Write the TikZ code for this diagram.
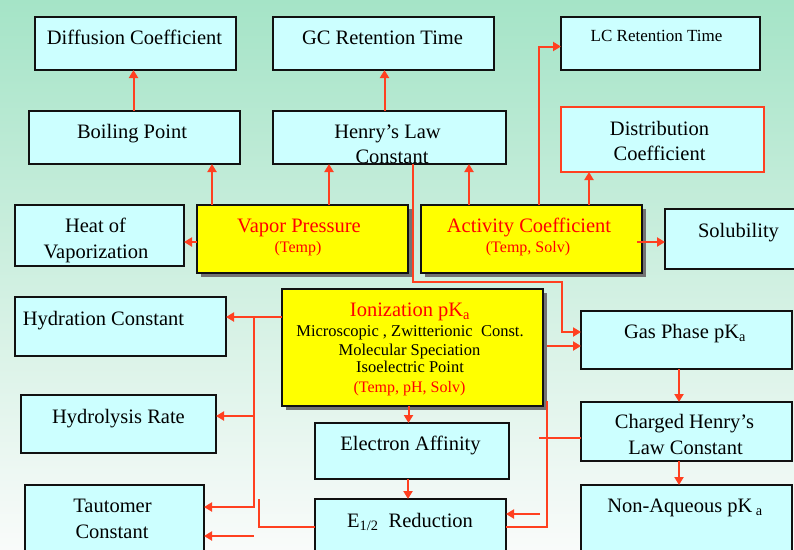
\documentclass[tikz,border=0pt]{standalone}
\usepackage{fontspec}
\setmainfont{Liberation Serif}
\usetikzlibrary{arrows.meta,shadows,calc}
\definecolor{bgtop}{RGB}{165,228,199}
\definecolor{bgmid}{RGB}{212,239,225}
\definecolor{bgbot}{RGB}{249,251,250}
\definecolor{cyanbox}{RGB}{204,255,255}
\definecolor{yelbox}{RGB}{255,255,0}
\definecolor{con}{RGB}{255,64,32}
\definecolor{boxedge}{RGB}{17,17,17}
\begin{document}
\begin{tikzpicture}[x=1pt,y=-1pt,
  box/.style={draw=boxedge, line width=1.5pt, fill=cyanbox, inner sep=0pt, outer sep=0pt},
  rbox/.style={box, draw=con},
  ybox/.style={box, fill=yelbox, drop shadow={shadow xshift=4pt, shadow yshift=-4pt, fill=black!55, opacity=1}},
  t/.style={anchor=base, inner sep=0pt, font=\fontsize{20.5}{24}\selectfont},
  tlc/.style={anchor=base, inner sep=0pt, font=\fontsize{17}{20}\selectfont},
  ts/.style={anchor=base, inner sep=0pt, font=\fontsize{16.5}{20}\selectfont},
  tr/.style={anchor=base, inner sep=0pt, font=\fontsize{16}{19}\selectfont, text=red},
  conn/.style={draw=con, line width=2pt},
  arr/.style={conn, -{Triangle[length=8pt,width=9pt]}},
]
\useasboundingbox (0,0) rectangle (794,549);
\clip (0,0) rectangle (794,549);
\shade[top color=bgtop, middle color=bgmid, bottom color=bgbot] (0,0) rectangle (794,549);

% boxes
\node[box, minimum width=201pt, minimum height=53pt] (diff) at (135.5,43.5) {};
\node[box, minimum width=221pt, minimum height=53pt] (gc) at (383.5,43.5) {};
\node[box, minimum width=199pt, minimum height=53pt] (lc) at (660.5,43.5) {};
\node[box, minimum width=211pt, minimum height=53pt] (bp) at (134.5,137.5) {};
\node[box, minimum width=233pt, minimum height=53pt] (hlc) at (389.5,137.5) {};
\node[rbox, minimum width=203pt, minimum height=65pt] (dc) at (662.5,139.5) {};
\node[box, minimum width=169pt, minimum height=61pt] (hov) at (99.5,235.5) {};
\node[ybox, minimum width=211pt, minimum height=68pt] (vp) at (302.5,239) {};
\node[ybox, minimum width=221pt, minimum height=68pt] (ac) at (531.5,239) {};
\node[box, minimum width=140pt, minimum height=60pt] (sol) at (735,239) {};
\node[box, minimum width=211pt, minimum height=59pt] (hyd) at (120.5,326.5) {};
\node[ybox, minimum width=261pt, minimum height=117pt] (ion) at (412.5,347.5) {};
\node[box, minimum width=211pt, minimum height=58pt] (gas) at (686.5,340) {};
\node[box, minimum width=195pt, minimum height=58pt] (hr) at (118.5,424) {};
\node[box, minimum width=194pt, minimum height=56pt] (ea) at (412,451) {};
\node[box, minimum width=211pt, minimum height=59pt] (ch) at (686.5,431.5) {};
\node[box, minimum width=179pt, minimum height=75pt] (taut) at (114.5,522.5) {};
\node[box, minimum width=191pt, minimum height=61pt] (e12) at (410.5,529.5) {};
\node[box, minimum width=211pt, minimum height=75pt] (naq) at (686.5,522.5) {};

% texts
\node[t] (tdiff) at (134.5,44) {Diffusion Coefficient};
\node[t] (tgc) at (382.5,44) {GC Retention Time};
\node[tlc] (tlc) at (656.5,41) {LC Retention Time};
\node[t] (tbp) at (132,138) {Boiling Point};
\node[t] (thlc1) at (387.5,138) {Henry’s Law};
\node[t] (thlc2) at (392,163) {Constant};
\node[t] (tdc1) at (659.5,135) {Distribution};
\node[t] (tdc2) at (659.5,160) {Coefficient};
\node[t] (thov1) at (95.5,232) {Heat of};
\node[t] (thov2) at (96,258) {Vaporization};
\node[t, text=red] (tvp) at (299,232) {Vapor Pressure};
\node[tr] (tvp2) at (298,252) {(Temp)};
\node[t, text=red] (tac) at (529,232) {Activity Coefficient};
\node[tr] (tac2) at (528,252) {(Temp, Solv)};
\node[t] (tsol) at (738.5,237) {Solubility};
\node[t] (thyd) at (103.5,325) {Hydration Constant};
\node[t, text=red] (tion) at (410,316) {Ionization pK\textsubscript{a}};
\node[ts] (tion2) at (410,336) {Microscopic , Zwitterionic\ \ Const.};
\node[ts] (tion3) at (409.5,355) {Molecular Speciation};
\node[ts] (tion4) at (410,372.5) {Isoelectric Point};
\node[tr] (tion5) at (409.5,392) {(Temp, pH, Solv)};
\node[t] (tgas) at (685,338) {Gas Phase pK\textsubscript{a}};
\node[t] (thr) at (118.5,423) {Hydrolysis Rate};
\node[t] (tea) at (410.5,450) {Electron Affinity};
\node[t] (tch1) at (684.5,428) {Charged Henry’s};
\node[t] (tch2) at (685.5,454) {Law Constant};
\node[t] (tnaq) at (685,512) {Non-Aqueous pK\,\textsubscript{a}};
\node[t] (ttaut1) at (112.5,512) {Tautomer};
\node[t] (ttaut2) at (112,538) {Constant};
\node[t] (te12) at (410,527) {E\textsubscript{1/2}\ \ Reduction};

% connectors
\coordinate (c0) at ([xshift=-1pt]bp.north);
\draw[arr] (c0) -- (c0 |- diff.south);
\coordinate (c1) at ([xshift=15pt]vp.north west);
\draw[arr] (c1) -- (c1 |- bp.south);
\coordinate (c2) at ([xshift=132pt]vp.north west);
\draw[arr] (c2) -- (c2 |- hlc.south);
\coordinate (cg) at ([xshift=1pt]gc.south);
\draw[arr] (cg |- hlc.north) -- (cg);
\coordinate (c3) at ([xshift=48pt]ac.north west);
\draw[arr] (c3) -- (c3 |- hlc.south);
\coordinate (c4) at ([xshift=118pt]ac.north west);
\draw[arr] (c4) |- ([yshift=-3pt]lc.west);
\coordinate (c5) at ([xshift=168pt]ac.north west);
\draw[arr] (c5) -- (c5 |- dc.south);
\coordinate (c5b) at ([yshift=-3pt]vp.west);
\draw[arr] (c5b) -- (c5b -| hov.east);
\coordinate (c6) at ([xshift=-5pt,yshift=-3pt]ac.east);
\draw[arr] (c6) -- (c6 -| sol.west);
\coordinate (c7) at ([xshift=140pt]hlc.south west);
\coordinate (j1) at (562,282);
\draw[arr] (c7) |- (j1) |- ([yshift=8pt]gas.west);
\coordinate (c9) at ([xshift=4pt,yshift=1.5pt]ion.east);
\draw[arr] (c9) -- (c9 -| gas.west);
\coordinate (c10) at ([yshift=30.5pt]ion.west);
\draw[arr] (c10) -- (c10 -| hyd.east);
\coordinate (trunk) at ([xshift=-28.5pt]c10);
\coordinate (c11) at ([yshift=15.5pt]taut.east);
\draw[arr] (trunk) |- (c11);
\coordinate (c12) at ([yshift=8pt]hr.east);
\draw[arr] (trunk |- c12) -- (c12);
\coordinate (c13) at ([yshift=-13.5pt]taut.east);
\draw[arr] (c13 -| trunk) -- (c13);
\coordinate (c14) at ([yshift=2.5pt]e12.west);
\draw[conn] (c14) -| ([xshift=-56pt]e12.north west);
\coordinate (c15a) at ([xshift=-4pt]ion.south);
\draw[arr] (c15a) -- (c15a |- ea.north);
\coordinate (c15) at ([xshift=-4pt]ea.south);
\draw[arr] (c15) -- (c15 |- e12.north);
\coordinate (r1) at ([xshift=4pt,yshift=5pt]ion.south east);
\draw[conn] (r1) |- (e12.east |- c14);
\coordinate (c16) at ([yshift=-6.5pt]ch.west);
\draw[conn] (c16) -- ([xshift=-42pt]c16);
\coordinate (c17) at ([yshift=15.5pt]e12.east);
\draw[arr] ([xshift=34pt]c17) -- (c17);
\coordinate (c18) at ([xshift=-7.5pt]gas.south);
\draw[arr] (c18) -- (c18 |- ch.north);
\coordinate (c19) at ([xshift=-7.5pt]ch.south);
\draw[arr] (c19) -- (c19 |- naq.north);
\end{tikzpicture}
\end{document}
